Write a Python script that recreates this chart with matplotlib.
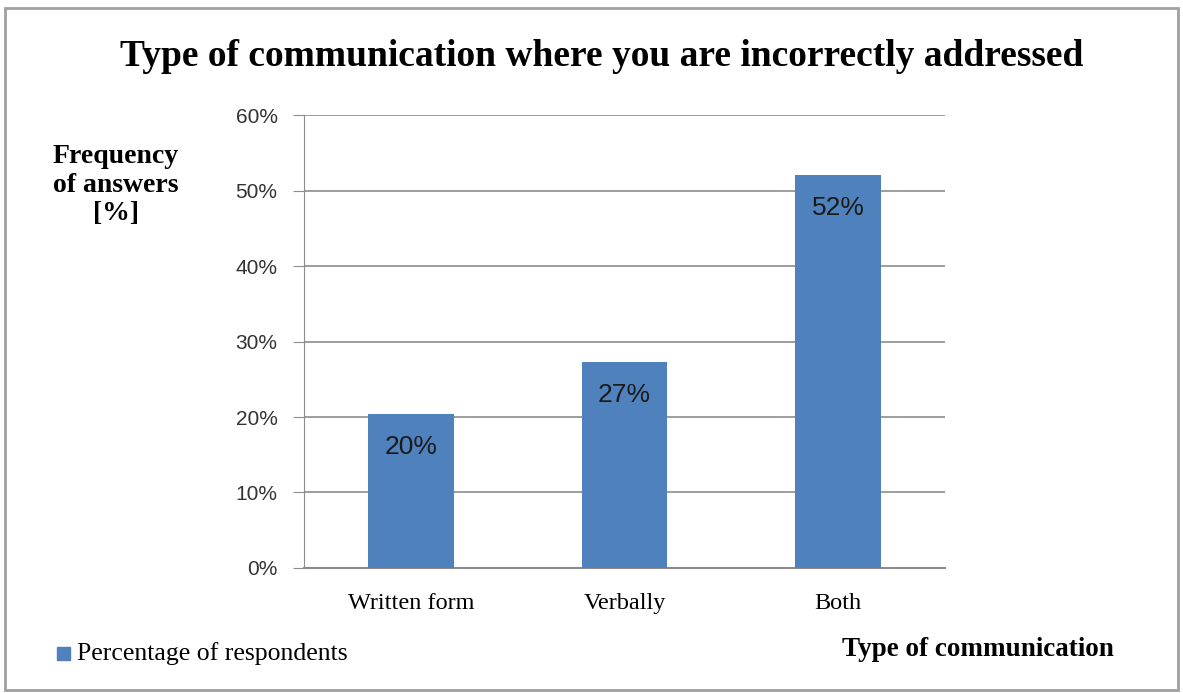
import matplotlib.pyplot as plt
from matplotlib.patches import Rectangle
from matplotlib.ticker import PercentFormatter

# Data
categories = ['Written form', 'Verbally', 'Both']
values = [20.4, 27.3, 52.1]
value_labels = ['20%', '27%', '52%']
series_name = 'Percentage of respondents'

bar_color = '#4F81BD'
grid_color = '#8C8C8C'
serif = ['Liberation Serif', 'DejaVu Serif']
sans = ['Liberation Sans', 'DejaVu Sans']

fig = plt.figure(figsize=(11.83, 6.93), dpi=100)
ax = fig.add_axes([304 / 1183, 0.1804, 641 / 1183, 0.6536])

x = range(len(categories))
bars = ax.bar(x, values, width=0.40, color=bar_color, zorder=3, label=series_name)

# value labels just inside the top of each bar
for rect, lab in zip(bars, value_labels):
    ax.annotate(lab, (rect.get_x() + rect.get_width() / 2, rect.get_height()),
                xytext=(0, -15), textcoords='offset points', ha='center', va='top',
                fontsize=19, family=sans, color='#1a1a1a', zorder=4)

ax.set_ylim(0, 60)
ax.set_xlim(-0.5, 2.5)
ax.set_yticks(range(0, 61, 10))
ax.yaxis.set_major_formatter(PercentFormatter(decimals=0))
ax.set_xticks(list(x))
ax.set_xticklabels(categories, family=serif, fontsize=17.5)
for t in ax.get_yticklabels():
    t.set_family(sans)
    t.set_fontsize(15)
    t.set_color('#333333')

ax.grid(axis='y', color=grid_color, linewidth=1.2, zorder=0)
ax.tick_params(axis='y', length=8, color=grid_color, pad=11)
ax.tick_params(axis='x', length=0, pad=18)
for s in ['top', 'right']:
    ax.spines[s].set_visible(False)
ax.spines['left'].set_color(grid_color)
ax.spines['bottom'].set_color(grid_color)
ax.spines['bottom'].set_linewidth(1.5)

fig.text(0.509, 0.918, 'Type of communication where you are incorrectly addressed',
         ha='center', va='center', family=serif, fontweight='bold', fontsize=27)
fig.text(0.098, 0.733, 'Frequency\nof answers\n[%]', ha='center', va='center',
         family=serif, fontweight='bold', fontsize=20, linespacing=1.2)
fig.text(0.827, 0.063, 'Type of communication', ha='center', va='center',
         family=serif, fontweight='bold', fontsize=19.5)

# legend at lower left
fig.patches.append(Rectangle((0.048, 0.048), 0.011, 0.019, transform=fig.transFigure,
                             color=bar_color, figure=fig))
fig.text(0.065, 0.057, series_name, ha='left', va='center', family=serif, fontsize=18.5)

# outer chart frame
fig.patches.append(Rectangle((0.004, 0.004), 0.992, 0.985, transform=fig.transFigure,
                             fill=False, edgecolor='#A0A0A0', linewidth=2, figure=fig))

fig.savefig('out.png', dpi=100)
